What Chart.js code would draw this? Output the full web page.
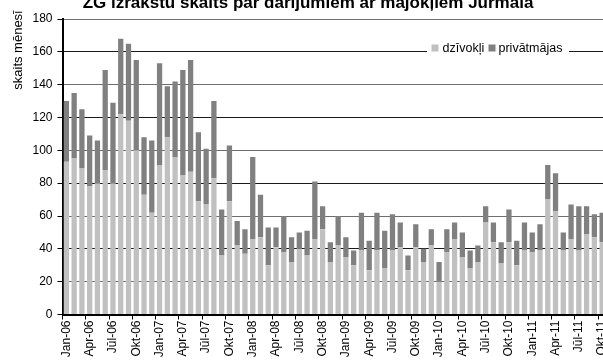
<!DOCTYPE html>
<html><head><meta charset="utf-8">
<script src="https://cdn.jsdelivr.net/npm/chart.js@4/dist/chart.umd.min.js"></script>
<style>
html,body{margin:0;padding:0;overflow:hidden;background:#fff;width:603px;height:362px}
#wrap{position:absolute;left:0;top:0;width:606px;height:362px}
</style>
</head><body><div id="wrap"><canvas id="c" width="606" height="362"></canvas></div>
<script>
const categories = [
 'Jan-06','Feb-06','Mar-06','Apr-06','Mai-06','Jūn-06','Jūl-06','Aug-06','Sep-06','Okt-06','Nov-06','Dec-06',
 'Jan-07','Feb-07','Mar-07','Apr-07','Mai-07','Jūn-07','Jūl-07','Aug-07','Sep-07','Okt-07','Nov-07','Dec-07',
 'Jan-08','Feb-08','Mar-08','Apr-08','Mai-08','Jūn-08','Jūl-08','Aug-08','Sep-08','Okt-08','Nov-08','Dec-08',
 'Jan-09','Feb-09','Mar-09','Apr-09','Mai-09','Jūn-09','Jūl-09','Aug-09','Sep-09','Okt-09','Nov-09','Dec-09',
 'Jan-10','Feb-10','Mar-10','Apr-10','Mai-10','Jūn-10','Jūl-10','Aug-10','Sep-10','Okt-10','Nov-10','Dec-10',
 'Jan-11','Feb-11','Mar-11','Apr-11','Mai-11','Jūn-11','Jūl-11','Aug-11','Sep-11','Okt-11'
];
const dzivokli = [
 93,95,89,78,80,88,80,122,118,100,73,62,
 91,108,96,85,87,69,67,83,36,69,42,37,
 46,47,30,41,38,32,40,36,46,52,32,42,
 35,30,39,27,39,28,39,41,27,41,32,42,
 20,38,46,35,28,32,56,44,31,44,30,39,
 38,39,70,63,39,46,39,49,47,44
];
const privatmajas = [
 37,40,36,31,26,61,49,46,47,55,35,44,
 62,31,46,64,68,42,34,47,28,34,15,15,
 50,26,23,12,22,15,10,15,35,14,12,18,
 12,9,23,18,23,23,22,15,9,14,8,10,
 12,14,10,15,11,10,10,12,13,20,15,17,
 12,16,21,23,11,21,27,17,14,18
];
const yTicks = [0,20,40,60,80,100,120,140,160,180];
const seriesNames = ['dzīvokļi','privātmājas'];
const seriesColors = ['#c0c0c0','#808080'];
const titleText = 'ZG izrakstu skaits par darījumiem ar mājokļiem Jūrmalā';
const yTitleText = 'skaits mēnesī';

const FONT = '"Liberation Sans", Arial, sans-serif';

const deco = {
  id: 'deco',
  afterDraw(chart) {
    const ctx = chart.ctx;
    ctx.save();
    ctx.fillStyle = '#000';
    ctx.font = 'bold 17px ' + FONT;
    ctx.textAlign = 'center';
    ctx.textBaseline = 'alphabetic';
    ctx.fillText(titleText, 308, 7.5);
    ctx.restore();

    ctx.save();
    ctx.fillStyle = '#000';
    ctx.font = '13px ' + FONT;
    ctx.translate(21.5, 50);
    ctx.rotate(-Math.PI / 2);
    ctx.textAlign = 'center';
    ctx.textBaseline = 'alphabetic';
    ctx.fillText(yTitleText, 0, 0);
    ctx.restore();

    // legend
    ctx.save();
    ctx.fillStyle = '#fff';
    ctx.fillRect(427, 42, 142, 16);
    ctx.font = '12.5px ' + FONT;
    ctx.textBaseline = 'alphabetic';
    ctx.textAlign = 'left';
    ctx.fillStyle = seriesColors[0];
    ctx.fillRect(431.5, 44.5, 7, 7);
    ctx.fillStyle = '#000';
    ctx.fillText(seriesNames[0], 442.5, 52);
    ctx.fillStyle = seriesColors[1];
    ctx.fillRect(488.5, 44.5, 7, 7);
    ctx.fillStyle = '#000';
    ctx.fillText(seriesNames[1], 498.5, 52);
    ctx.restore();
  }
};

new Chart(document.getElementById('c'), {
  type: 'bar',
  data: {
    labels: categories,
    datasets: [
      {label: seriesNames[0], data: dzivokli, backgroundColor: seriesColors[0], borderWidth: 0, barPercentage: 0.68, categoryPercentage: 1},
      {label: seriesNames[1], data: privatmajas, backgroundColor: seriesColors[1], borderWidth: 0, barPercentage: 0.68, categoryPercentage: 1}
    ]
  },
  options: {
    responsive: false,
    animation: false,
    devicePixelRatio: 1,
    layout: {padding: {top: 19, left: 0, right: 0, bottom: 0}},
    plugins: {legend: {display: false}, tooltip: {enabled: false}, title: {display: false}},
    scales: {
      x: {
        stacked: true,
        ticks: {
          autoSkip: false, maxRotation: 90, minRotation: 90, color: '#000', padding: 1,
          font: {family: FONT, size: 12},
          callback: (v, i) => (i % 3 === 0 ? categories[i] : '')
        },
        grid: {
          drawOnChartArea: false, tickLength: 5, offset: true,
          color: c => (c.index % 3 === 0 ? '#000' : 'rgba(0,0,0,0)')
        },
        border: {color: '#000', width: 2},
        afterFit(s) { s.height = 47.5; s.paddingLeft = 0; s.paddingRight = 0; }
      },
      y: {
        stacked: true, min: 0, max: 180,
        afterBuildTicks(s) { s.ticks = yTicks.map(v => ({value: v})); },
        ticks: {color: '#000', padding: 5, font: {family: FONT, size: 12}},
        grid: {
          tickLength: 5, tickColor: '#000', lineWidth: 1,
          color: c => (c.tick && c.tick.value % 40 === 0 ? '#1a1a1a' : '#6e6e6e')
        },
        border: {color: '#000', width: 2},
        afterFit(s) { s.width = 62.5; s.paddingTop = 0; s.paddingBottom = 0; }
      }
    }
  },
  plugins: [deco]
});
</script>
</body></html>
